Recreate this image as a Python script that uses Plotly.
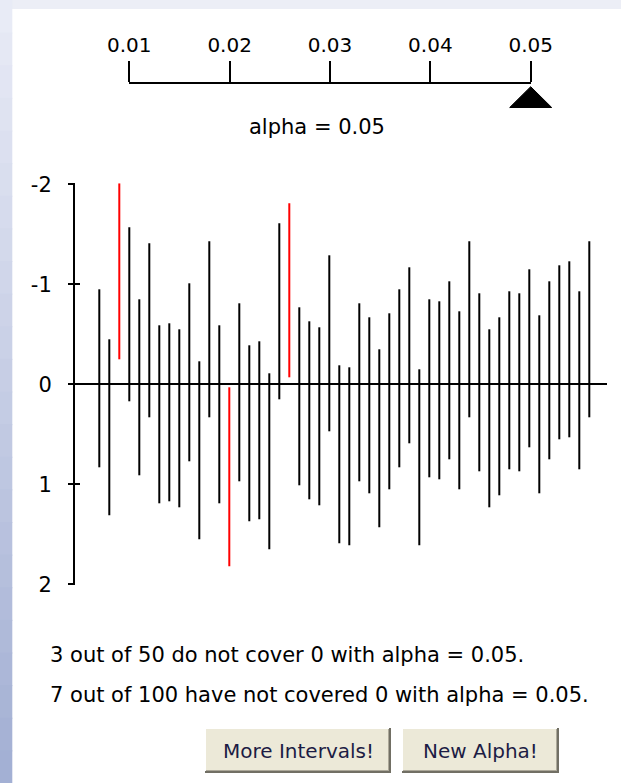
import plotly.graph_objects as go

# ---------------- data ----------------
interval_index = list(range(1, 51))
lower = [-0.95, -0.45, -2.01, -1.57, -0.85, -1.41, -0.59, -0.61, -0.55, -1.01,
         -0.23, -1.43, -0.59, 0.03, -0.81, -0.39, -0.43, -0.11, -1.61, -1.81,
         -0.77, -0.63, -0.57, -1.29, -0.19, -0.17, -0.81, -0.67, -0.35, -0.71,
         -0.95, -1.17, -0.15, -0.85, -0.83, -1.03, -0.73, -1.43, -0.91, -0.55,
         -0.67, -0.93, -0.91, -1.15, -0.69, -1.03, -1.19, -1.23, -0.93, -1.43]
upper = [0.83, 1.31, -0.25, 0.17, 0.91, 0.33, 1.19, 1.17, 1.23, 0.77,
         1.55, 0.33, 1.19, 1.82, 0.97, 1.37, 1.35, 1.65, 0.15, -0.07,
         1.01, 1.15, 1.21, 0.47, 1.59, 1.61, 0.97, 1.09, 1.43, 1.05,
         0.83, 0.59, 1.61, 0.93, 0.95, 0.75, 1.05, 0.33, 0.87, 1.23,
         1.11, 0.85, 0.87, 0.63, 1.09, 0.75, 0.55, 0.53, 0.85, 0.33]
y_ticks = [-2, -1, 0, 1, 2]
alpha_ticks = [0.01, 0.02, 0.03, 0.04, 0.05]
alpha_labels = ["0.01", "0.02", "0.03", "0.04", "0.05"]
alpha = 0.05
line1 = "3 out of 50 do not cover 0 with alpha = 0.05."
line2 = "7 out of 100 have not covered 0 with alpha = 0.05."
buttons = ["More Intervals!", "New Alpha!"]

W, H = 621, 783
def px(x):
    return x / W
def py(y):
    return 1 - y / H

FONT = "DejaVu Sans"

# ---------------- traces ----------------
bx, by, rx, ry = [], [], [], []
for i, lo, hi in zip(interval_index, lower, upper):
    if lo <= 0 <= hi:
        bx += [i, i, None]; by += [lo, hi, None]
    else:
        rx += [i, i, None]; ry += [lo, hi, None]

fig = go.Figure()
fig.add_trace(go.Scatter(x=bx, y=by, mode="lines", line=dict(color="black", width=2),
                         hoverinfo="skip", xaxis="x", yaxis="y"))
fig.add_trace(go.Scatter(x=rx, y=ry, mode="lines", line=dict(color="#ff0000", width=2),
                         hoverinfo="skip", xaxis="x", yaxis="y"))
fig.add_trace(go.Scatter(x=[None], y=[None], xaxis="x", yaxis="y3", hoverinfo="skip"))
# slider axis carrier
fig.add_trace(go.Scatter(x=[alpha], y=[None], xaxis="x2", yaxis="y2", mode="markers",
                         hoverinfo="skip"))

# ---------------- shapes (background + slider thumb + buttons) ----------------
shapes = []
# top band
shapes.append(dict(type="rect", xref="paper", yref="paper", x0=0, x1=1, y0=py(9), y1=1,
                   fillcolor="#eceef6", line=dict(width=0), layer="below"))
# left gradient strip
n = 24
c0 = (232, 235, 246); c1 = (163, 176, 212)
for k in range(n):
    t = k / (n - 1)
    col = "rgb(%d,%d,%d)" % tuple(int(c0[j] + (c1[j] - c0[j]) * t) for j in range(3))
    y0 = k * H / n
    y1 = (k + 1) * H / n + 1
    shapes.append(dict(type="rect", xref="paper", yref="paper", x0=0, x1=px(12.3),
                       y0=py(y1), y1=py(y0), fillcolor=col, line=dict(width=0), layer="below"))

# slider thumb, anchored at alpha on the slider axis
a_lo, a_hi = 0.01, 0.05
slider_y_px = 84
shapes.append(dict(type="path", xref="x2 domain", yref="paper", xsizemode="pixel", ysizemode="pixel",
                   xanchor=(alpha - a_lo) / (a_hi - a_lo), yanchor=py(slider_y_px),
                   path="M-21,-23.5 L21,-23.5 L0,-2.7 Z",
                   fillcolor="black", line=dict(color="black", width=1)))

# buttons
btn_boxes = [(205, 391), (402, 559)]
bt, bb = 728, 773
annotations = []
for (x0, x1), label in zip(btn_boxes, buttons):
    shapes.append(dict(type="rect", xref="paper", yref="paper", x0=px(x0), x1=px(x1),
                       y0=py(bb), y1=py(bt), fillcolor="#ece9d8", line=dict(width=0)))
    shapes.append(dict(type="line", xref="paper", yref="paper", x0=px(x0), x1=px(x1),
                       y0=py(bt + 0.5), y1=py(bt + 0.5), line=dict(color="#ffffff", width=1)))
    shapes.append(dict(type="line", xref="paper", yref="paper", x0=px(x0 + 0.5), x1=px(x0 + 0.5),
                       y0=py(bt), y1=py(bb), line=dict(color="#ffffff", width=1)))
    shapes.append(dict(type="line", xref="paper", yref="paper", x0=px(x0), x1=px(x1),
                       y0=py(bb - 1), y1=py(bb - 1), line=dict(color="#716f64", width=2)))
    shapes.append(dict(type="line", xref="paper", yref="paper", x0=px(x1 - 1), x1=px(x1 - 1),
                       y0=py(bt), y1=py(bb), line=dict(color="#716f64", width=2)))
    shapes.append(dict(type="line", xref="paper", yref="paper", x0=px(x0 + 1), x1=px(x1 - 2),
                       y0=py(bb - 2.5), y1=py(bb - 2.5), line=dict(color="#aca899", width=1)))
    shapes.append(dict(type="line", xref="paper", yref="paper", x0=px(x1 - 2.5), x1=px(x1 - 2.5),
                       y0=py(bt + 1), y1=py(bb - 2), line=dict(color="#aca899", width=1)))
    annotations.append(dict(xref="paper", yref="paper", x=px((x0 + x1) / 2), y=py(750.5),
                            text=label, showarrow=False, xanchor="center", yanchor="middle",
                            font=dict(family=FONT, size=20, color="#1c1c44")))

annotations.append(dict(xref="paper", yref="paper", x=px(317), y=py(127), text="alpha = %.2f" % alpha,
                        showarrow=False, xanchor="center", yanchor="middle",
                        font=dict(family=FONT, size=21, color="black")))
annotations.append(dict(xref="paper", yref="paper", x=px(48), y=py(655), text=line1,
                        showarrow=False, xanchor="left", yanchor="middle",
                        font=dict(family=FONT, size=21, color="black")))
annotations.append(dict(xref="paper", yref="paper", x=px(48), y=py(694.5), text=line2,
                        showarrow=False, xanchor="left", yanchor="middle",
                        font=dict(family=FONT, size=21, color="black")))

# ---------------- axes ----------------
x_left, x_right = 75, 607
first_px, step_px = 89.3, 10.0
xr = [(x_left - first_px) / step_px, (x_right - first_px) / step_px]
y_top_px, y_bot_px = 183.3, 585.3

fig.update_layout(
    template="none",
    width=W, height=H, margin=dict(l=0, r=0, t=0, b=0, pad=0), autosize=False,
    paper_bgcolor="white", plot_bgcolor="rgba(0,0,0,0)", showlegend=False,
    font=dict(family=FONT, size=20, color="black"),
    xaxis=dict(domain=[px(x_left), px(x_right)], range=xr, visible=False, fixedrange=True,
               automargin=False),
    yaxis=dict(domain=[py(y_bot_px), py(y_top_px)], range=[2.01, -2.01], anchor="x",
               tickvals=y_ticks, ticktext=[str(v) for v in y_ticks],
               ticks="outside", ticklen=5, tickwidth=2, tickcolor="black",
               showline=True, linecolor="black", linewidth=2,
               zeroline=True, zerolinecolor="black", zerolinewidth=2,
               showgrid=False, ticklabelstandoff=12, automargin=False,
               tickfont=dict(family=FONT, size=21, color="black"), fixedrange=True),
    yaxis3=dict(overlaying="y", anchor="x", range=[2.01, -2.01], tickvals=y_ticks,
                ticks="inside", ticklen=5, tickwidth=2, tickcolor="black",
                showticklabels=False, showline=False, zeroline=False, showgrid=False,
                automargin=False, fixedrange=True),
    xaxis2=dict(domain=[px(129.3), px(530.7)], range=[a_lo, a_hi], anchor="y2", side="top",
                tickvals=alpha_ticks, ticktext=alpha_labels,
                ticks="outside", ticklen=21, tickwidth=2, tickcolor="black",
                showline=True, linecolor="black", linewidth=2, showgrid=False, zeroline=False,
                ticklabelstandoff=1, tickfont=dict(family=FONT, size=20, color="black"),
                automargin=False, fixedrange=True),
    yaxis2=dict(domain=[py(112), py(slider_y_px)], range=[0, 1], anchor="x2", visible=False,
                automargin=False, fixedrange=True),
    shapes=shapes, annotations=annotations,
)

fig.write_html("out.html", config={"displayModeBar": False},
               post_script="document.body.style.margin='0';document.body.style.overflow='hidden';")
